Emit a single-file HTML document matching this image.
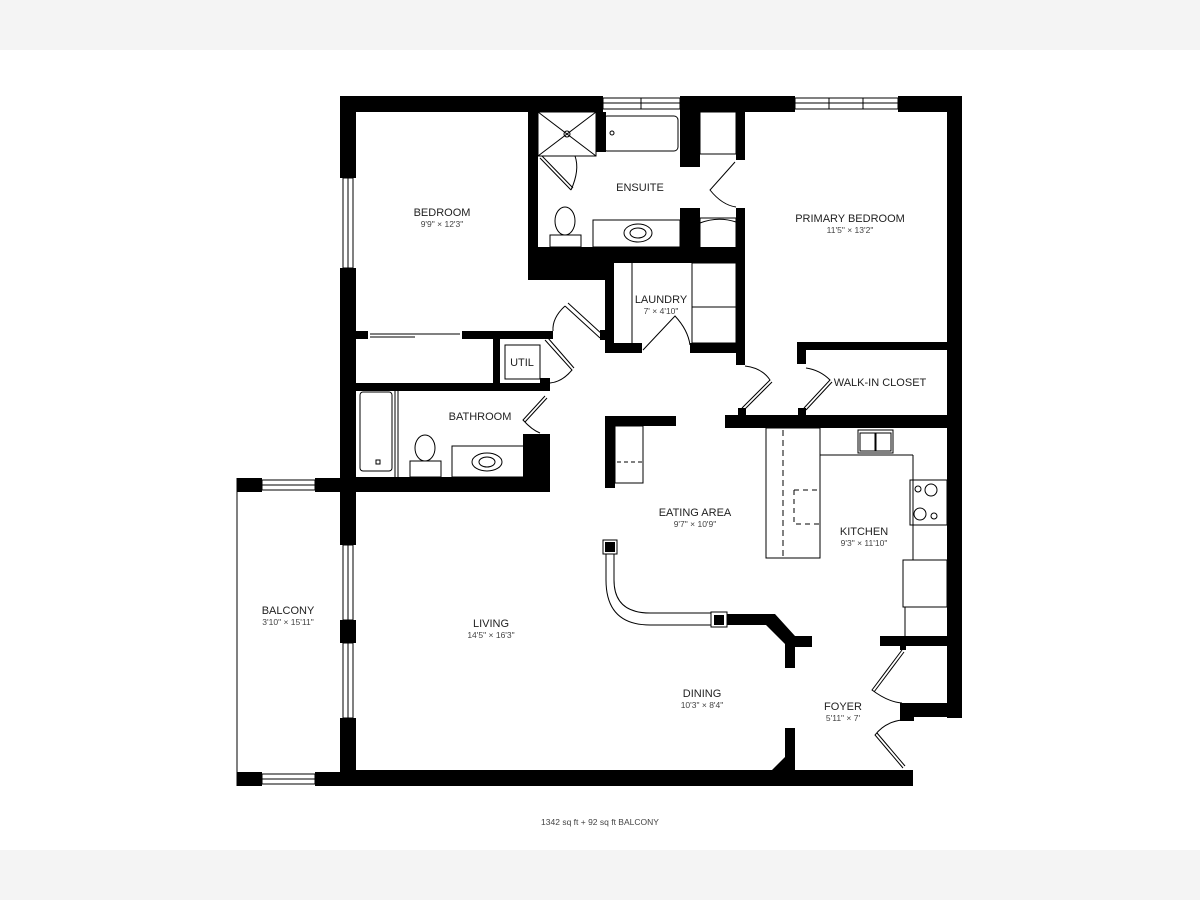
<!DOCTYPE html>
<html><head><meta charset="utf-8"><style>
html,body{margin:0;padding:0;background:#fff}
svg{display:block}
text{font-family:"Liberation Sans",sans-serif;fill:#222;text-anchor:middle}
.l{font-size:11px}
.d{font-size:8.5px;fill:#444}
</style></head><body>
<svg width="1200" height="900" viewBox="0 0 1200 900">
<rect x="0" y="0" width="1200" height="50" fill="#f4f4f4"/>
<rect x="0" y="850" width="1200" height="50" fill="#f4f4f4"/>
<g fill="#000">
<rect x="340" y="96" width="263" height="16"/>
<rect x="680" y="96" width="115" height="16"/>
<rect x="898" y="96" width="64" height="16"/>
<rect x="947" y="96" width="15" height="622"/>
<rect x="900" y="703" width="62" height="14"/>
<rect x="900" y="703" width="14" height="18"/>
<rect x="340" y="770" width="573" height="16"/>
<rect x="340" y="96" width="16" height="82"/>
<rect x="340" y="268" width="16" height="224"/>
<rect x="340" y="480" width="16" height="65"/>
<rect x="340" y="620" width="16" height="23"/>
<rect x="340" y="718" width="16" height="68"/>
<rect x="237" y="478" width="25" height="14"/>
<rect x="315" y="478" width="25" height="14"/>
<rect x="237" y="772" width="25" height="14"/>
<rect x="315" y="772" width="25" height="14"/>
<rect x="528" y="112" width="10" height="168"/>
<rect x="528" y="247" width="82" height="33"/>
<rect x="528" y="247" width="217" height="16"/>
<rect x="680" y="112" width="20" height="55"/>
<rect x="680" y="208" width="20" height="45"/>
<rect x="596" y="112" width="10" height="40"/>
<rect x="736" y="96" width="9" height="64"/>
<rect x="736" y="208" width="9" height="157"/>
<rect x="605" y="263" width="9" height="89"/>
<rect x="605" y="343" width="37" height="10"/>
<rect x="690" y="343" width="55" height="10"/>
<rect x="600" y="330" width="8" height="10"/>
<rect x="356" y="331" width="12" height="8"/>
<rect x="462" y="331" width="91" height="8"/>
<rect x="493" y="339" width="7" height="46"/>
<rect x="356" y="383" width="194" height="8"/>
<rect x="540" y="378" width="10" height="12"/>
<rect x="523" y="434" width="27" height="52"/>
<rect x="340" y="477" width="210" height="15"/>
<rect x="797" y="342" width="165" height="8"/>
<rect x="797" y="342" width="9" height="22"/>
<rect x="725" y="415" width="237" height="13"/>
<rect x="738" y="408" width="8" height="10"/>
<rect x="798" y="408" width="8" height="10"/>
<rect x="605" y="416" width="71" height="10"/>
<rect x="605" y="416" width="10" height="72"/>
<rect x="727" y="614" width="43" height="11"/>
<polygon points="766,614 775,614 795,636 812,636 812,647 788,647 766,625"/>
<rect x="785" y="640" width="10" height="28"/>
<rect x="785" y="728" width="10" height="45"/>
<polygon points="770,772 787,755 787,772"/>
<rect x="880" y="636" width="82" height="10"/>
<rect x="900" y="636" width="6" height="14"/>
</g>
<g fill="none" stroke="#000" stroke-width="1">
<rect x="603" y="98" width="77" height="11"/><line x1="603" y1="103" x2="680" y2="103"/><line x1="641" y1="98" x2="641" y2="109"/>
<rect x="795" y="98" width="103" height="11"/><line x1="795" y1="103" x2="898" y2="103"/><line x1="829" y1="98" x2="829" y2="109"/><line x1="863" y1="98" x2="863" y2="109"/>
<rect x="343" y="178" width="10" height="90"/><line x1="348" y1="178" x2="348" y2="268"/>
<rect x="343" y="545" width="10" height="75"/><line x1="348" y1="545" x2="348" y2="620"/>
<rect x="343" y="643" width="10" height="75"/><line x1="348" y1="643" x2="348" y2="718"/>
<rect x="262" y="480" width="53" height="10"/><line x1="262" y1="485" x2="315" y2="485"/>
<rect x="262" y="774" width="53" height="10"/><line x1="262" y1="779" x2="315" y2="779"/>
<line x1="237" y1="478" x2="237" y2="786"/>
<rect x="538" y="112" width="58" height="44"/><line x1="538" y1="112" x2="596" y2="156"/><line x1="596" y1="112" x2="538" y2="156"/>
<circle cx="567" cy="134" r="3"/>
<path d="M540 158 L571 190 M542 156 L573 188 M571 190 Q580 170 575 156"/>
<rect x="603" y="116" width="75" height="35" rx="4"/><circle cx="612" cy="133" r="2"/>
<ellipse cx="565" cy="221" rx="10" ry="14"/><rect x="550" y="235" width="31" height="12"/>
<rect x="593" y="220" width="87" height="27"/><ellipse cx="638" cy="233" rx="14" ry="9"/><ellipse cx="638" cy="233" rx="8" ry="5"/>
<rect x="700" y="112" width="36" height="42"/>
<rect x="700" y="218" width="36" height="30"/>
<path d="M700 223 Q718 216 736 222"/>
<path d="M735 162 L710 190 Q722 205 736 207"/>
<line x1="632" y1="263" x2="632" y2="343"/>
<rect x="692" y="263" width="44" height="44"/><rect x="692" y="307" width="44" height="36"/>
<path d="M643 350 L675 316 Q688 330 690 345"/>
<path d="M565 306 L600 338 M568 303 L603 335 M565 306 Q552 318 553 331"/>
<line x1="370" y1="334" x2="460" y2="334"/><line x1="370" y1="337" x2="415" y2="337"/>
<rect x="505" y="345" width="35" height="34"/>
<path d="M545 340 L572 370 Q562 382 550 383 M548 338 L574 368"/>
<rect x="360" y="392" width="32" height="79" rx="3"/><rect x="376" y="460" width="4" height="4"/>
<line x1="395" y1="391" x2="395" y2="477"/><line x1="398" y1="391" x2="398" y2="477"/>
<ellipse cx="425" cy="448" rx="10" ry="13"/><rect x="410" y="461" width="31" height="16"/>
<rect x="452" y="446" width="72" height="31"/><ellipse cx="487" cy="462" rx="15" ry="9"/><ellipse cx="487" cy="462" rx="8" ry="5"/>
<path d="M545 396 L523 420 Q532 430 540 433 M547 398 L525 422"/>
<rect x="615" y="426" width="28" height="57"/>
<path d="M617 462 L643 462" stroke-dasharray="4,3"/>
<path d="M742 408 L770 380 Q762 368 745 366 M744 410 L772 382"/>
<path d="M804 408 L830 380 Q820 370 806 368 M806 410 L832 382"/>
<rect x="766" y="428" width="54" height="130"/>
<line x1="820" y1="455" x2="913" y2="455"/><line x1="820" y1="455" x2="820" y2="558"/>
<line x1="913" y1="455" x2="913" y2="560"/>
<path d="M783 430 L783 558" stroke-dasharray="6,4"/>
<path d="M794 490 L820 490 M794 490 L794 524 L820 524" stroke-dasharray="5,4"/>
<rect x="858" y="430" width="35" height="23"/><rect x="860" y="433" width="15" height="18"/><rect x="876" y="433" width="15" height="18"/>
<rect x="910" y="480" width="37" height="45"/>
<circle cx="918" cy="489" r="3"/><circle cx="931" cy="490" r="6"/><circle cx="920" cy="514" r="6"/><circle cx="934" cy="516" r="3"/>
<rect x="903" y="560" width="44" height="47"/>
<line x1="905" y1="607" x2="905" y2="636"/>
<rect x="603" y="540" width="14" height="14"/>
<path d="M606 554 L606 580 Q606 625 650 625 L711 625"/>
<path d="M614 554 L614 580 Q614 613 650 613 L711 613"/>
<rect x="711" y="612" width="16" height="15"/>
<path d="M902 650 L872 690 Q888 702 902 703 M904 652 L874 692"/>
<path d="M903 768 L875 735 Q885 722 902 720 M905 766 L877 733"/>
</g>
<rect x="605" y="542" width="10" height="10" fill="#000"/>
<rect x="714" y="615" width="10" height="10" fill="#000"/>
<text class="l" x="442" y="216">BEDROOM</text><text class="d" x="442" y="227">9'9" × 12'3"</text>
<text class="l" x="640" y="191">ENSUITE</text>
<text class="l" x="850" y="222">PRIMARY BEDROOM</text><text class="d" x="850" y="233">11'5" × 13'2"</text>
<text class="l" x="661" y="303">LAUNDRY</text><text class="d" x="661" y="314">7' × 4'10"</text>
<text class="l" x="522" y="366">UTIL</text>
<text class="l" x="880" y="386">WALK-IN CLOSET</text>
<text class="l" x="480" y="420">BATHROOM</text>
<text class="l" x="695" y="516">EATING AREA</text><text class="d" x="695" y="527">9'7" × 10'9"</text>
<text class="l" x="864" y="535">KITCHEN</text><text class="d" x="864" y="546">9'3" × 11'10"</text>
<text class="l" x="288" y="614">BALCONY</text><text class="d" x="288" y="625">3'10" × 15'11"</text>
<text class="l" x="491" y="627">LIVING</text><text class="d" x="491" y="638">14'5" × 16'3"</text>
<text class="l" x="702" y="697">DINING</text><text class="d" x="702" y="708">10'3" × 8'4"</text>
<text class="l" x="843" y="710">FOYER</text><text class="d" x="843" y="721">5'11" × 7'</text>
<text class="d" x="600" y="825">1342 sq ft + 92 sq ft BALCONY</text>
</svg>
</body></html>
